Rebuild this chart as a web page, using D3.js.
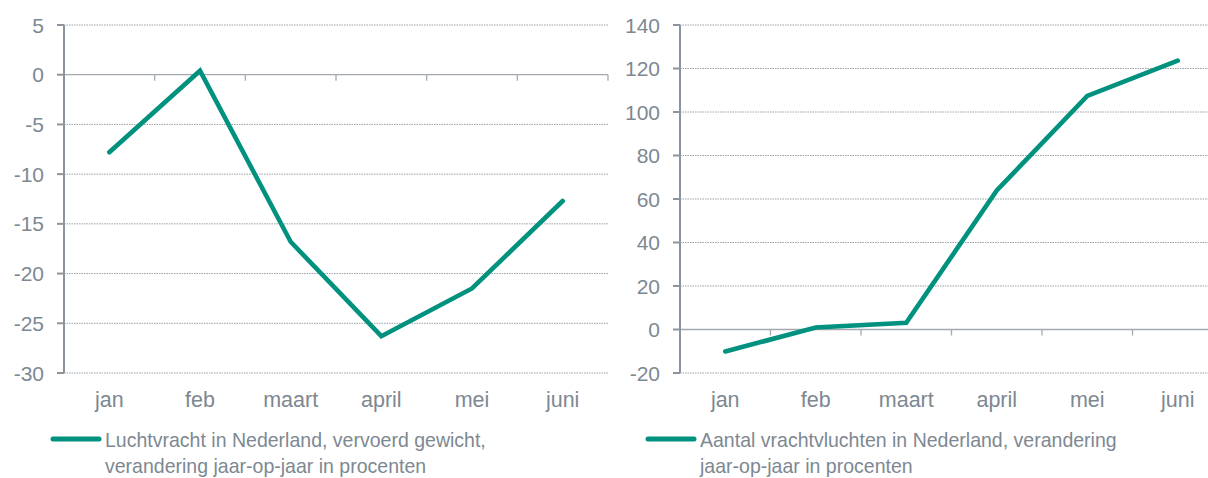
<!DOCTYPE html>
<html>
<head>
<meta charset="utf-8">
<script src="https://cdn.jsdelivr.net/npm/d3@7"></script>
<style>
  body { margin: 0; background: #fff; }
  svg { display: block; font-family: "Liberation Sans", Arial, sans-serif; }
  .tick-label { fill: #7d8892; }
</style>
</head>
<body>
<div id="chart"></div>
<script>
// data
const months = ["jan", "feb", "maart", "april", "mei", "juni"];
const vrachtGewicht = [-7.8, 0.4, -16.8, -26.3, -21.5, -12.7];
const vrachtVluchten = [-10.1, 0.9, 3.1, 63.9, 107.4, 123.6];
const leftTicks = [5, 0, -5, -10, -15, -20, -25, -30];
const rightTicks = [140, 120, 100, 80, 60, 40, 20, 0, -20];
const legendLeft = ["Luchtvracht in Nederland, vervoerd gewicht,", "verandering jaar-op-jaar in procenten"];
const legendRight = ["Aantal vrachtvluchten in Nederland, verandering", "jaar-op-jaar in procenten"];

const lineColor = "#00917f";
const axisColor = "#8c959d";

const svg = d3.select("#chart").append("svg")
    .attr("width", 1208)
    .attr("height", 478);

function drawPanel(opts) {
    let g = svg.append("g");

    let x = d3.scaleBand().domain(months).range([opts.x0, opts.x1]);
    let y = d3.scaleLinear().domain(opts.domain).range([373, 25]);

    // gridlines (dotted)
    g.selectAll(".grid")
        .data(opts.ticks.filter(t => t !== 0))
        .enter().append("line")
        .attr("x1", opts.x0).attr("x2", opts.x1)
        .attr("y1", d => y(d)).attr("y2", d => y(d))
        .attr("stroke", "#9aa0a6")
        .attr("stroke-width", 1)
        .attr("stroke-dasharray", "1.5,1");

    // zero line with category ticks
    g.append("line")
        .attr("x1", opts.x0).attr("x2", opts.x1)
        .attr("y1", y(0)).attr("y2", y(0))
        .attr("stroke", "#a3a9ae").attr("stroke-width", 1.3);
    let bounds = months.map(m => x(m)).concat([opts.x1]).slice(1);
    g.selectAll(".xtick")
        .data(bounds)
        .enter().append("line")
        .attr("x1", d => d).attr("x2", d => d)
        .attr("y1", y(0)).attr("y2", y(0) + 6)
        .attr("stroke", "#a3a9ae").attr("stroke-width", 1.3);

    // y axis
    g.append("line")
        .attr("x1", opts.x0).attr("x2", opts.x0)
        .attr("y1", y(opts.domain[1])).attr("y2", y(opts.domain[0]))
        .attr("stroke", axisColor).attr("stroke-width", 2);
    g.selectAll(".ytick")
        .data(opts.ticks)
        .enter().append("line")
        .attr("x1", opts.x0 - 7).attr("x2", opts.x0)
        .attr("y1", d => y(d)).attr("y2", d => y(d))
        .attr("stroke", axisColor).attr("stroke-width", 2);
    g.selectAll(".ylabel")
        .data(opts.ticks)
        .enter().append("text")
        .attr("class", "tick-label")
        .attr("x", opts.x0 - 20)
        .attr("y", d => y(d))
        .attr("dy", "0.36em")
        .attr("text-anchor", "end")
        .style("font-size", "21px")
        .text(d => d);

    // category labels
    g.selectAll(".xlabel")
        .data(months)
        .enter().append("text")
        .attr("class", "tick-label")
        .attr("x", d => x(d) + x.bandwidth() / 2)
        .attr("y", 407)
        .attr("text-anchor", "middle")
        .style("font-size", "21.5px")
        .text(d => d);

    // the line
    let line = d3.line()
        .x((d, i) => x(months[i]) + x.bandwidth() / 2)
        .y(d => y(d));
    g.append("path")
        .datum(opts.values)
        .attr("d", line)
        .attr("fill", "none")
        .attr("stroke", lineColor)
        .attr("stroke-width", 4.6)
        .attr("stroke-linecap", "round")
        .attr("stroke-linejoin", "miter");

    // legend
    g.append("line")
        .attr("x1", opts.legX).attr("x2", opts.legX + 46)
        .attr("y1", 439).attr("y2", 439)
        .attr("stroke", lineColor).attr("stroke-width", 5)
        .attr("stroke-linecap", "round");
    g.selectAll(".legtext")
        .data(opts.legend)
        .enter().append("text")
        .attr("class", "tick-label")
        .attr("transform", (d, i) => "translate(" + (opts.legX + 52) + "," + (447 + i * 26) + ") scale(0.93,1)")
        .style("font-size", "21px")
        .text(d => d);
}

drawPanel({x0: 64, x1: 608, domain: [-30, 5], ticks: leftTicks, values: vrachtGewicht, legX: 53, legend: legendLeft});
drawPanel({x0: 680, x1: 1223, domain: [-20, 140], ticks: rightTicks, values: vrachtVluchten, legX: 648, legend: legendRight});
</script>
</body>
</html>
